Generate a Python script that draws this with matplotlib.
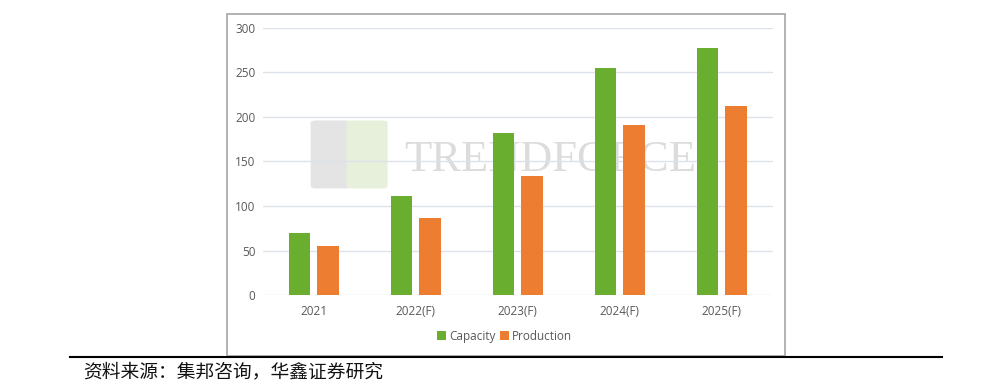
import numpy as np
import matplotlib.pyplot as plt
from matplotlib.patches import Rectangle, FancyBboxPatch
from matplotlib.lines import Line2D

# chart data
years = ['2021', '2022(F)', '2023(F)', '2024(F)', '2025(F)']
capacity = [70, 111, 182, 255, 278]
production = [55, 86, 134, 191, 212]
yticks = [0, 50, 100, 150, 200, 250, 300]
source_note = '资料来源：集邦咨询，华鑫证券研究'

green = '#6AAE2F'
orange = '#ED7D31'

plt.rcParams['font.family'] = ['Open Sans', 'DejaVu Sans']

fig = plt.figure(figsize=(9.99, 3.91), dpi=100)

# outer chart frame (behind everything)
frame = Rectangle((0.2272, 0.0895), 0.5586, 0.8747, transform=fig.transFigure,
                  facecolor='white', edgecolor='#A6A6A6', linewidth=1.2, zorder=-5)
fig.patches.append(frame)

# faint watermark
logo_l = FancyBboxPatch((0.313, 0.52), 0.036, 0.17, boxstyle='round,pad=0.002,rounding_size=0.006',
                        transform=fig.transFigure, facecolor='#E4E4E4', edgecolor='none', zorder=-4)
logo_r = FancyBboxPatch((0.349, 0.52), 0.037, 0.17, boxstyle='round,pad=0.002,rounding_size=0.006',
                        transform=fig.transFigure, facecolor='#E6F0DA', edgecolor='none', zorder=-4)
fig.patches.extend([logo_l, logo_r])
fig.text(0.405, 0.59, 'TRENDFORCE', fontsize=32, color='#DCDCDC',
         family='Liberation Serif', va='center', ha='left', zorder=-3)

ax = fig.add_axes([0.2628, 0.2455, 0.5105, 0.683])
ax.set_facecolor('none')
ax.set_zorder(2)

x = np.arange(len(years))
w = 0.21
off = 0.14
ax.bar(x - off, capacity, w, color=green, label='Capacity', zorder=3)
ax.bar(x + off, production, w, color=orange, label='Production', zorder=3)

ax.set_xlim(-0.5, len(years) - 0.5)
ax.set_ylim(0, 300)
ax.set_yticks(yticks)
ax.set_xticks(x)
ax.set_xticklabels(years)
ax.grid(axis='y', color='#DCE1EA', linewidth=1, zorder=1)
ax.set_axisbelow(True)
for s in ax.spines.values():
    s.set_visible(False)
ax.tick_params(axis='both', length=0, labelsize=8.5, labelcolor='#595959')
ax.tick_params(axis='y', pad=5)
ax.tick_params(axis='x', pad=7)

ax.legend(loc='center', bbox_to_anchor=(0.475, -0.154), ncol=2, frameon=False,
          fontsize=8.5, handlelength=0.7, handleheight=0.7, handletextpad=0.3,
          columnspacing=0.4, labelcolor='#595959')

# footer rule and source note
fig.add_artist(Line2D([0.070, 0.943], [0.087, 0.087], transform=fig.transFigure,
                      color='black', linewidth=1.5))
fig.text(0.083, 0.048, source_note, fontsize=13.5, va='center', ha='left',
         family=['Noto Sans CJK SC', 'DejaVu Sans'], color='#111111')

fig.savefig('out.png', dpi=100)
